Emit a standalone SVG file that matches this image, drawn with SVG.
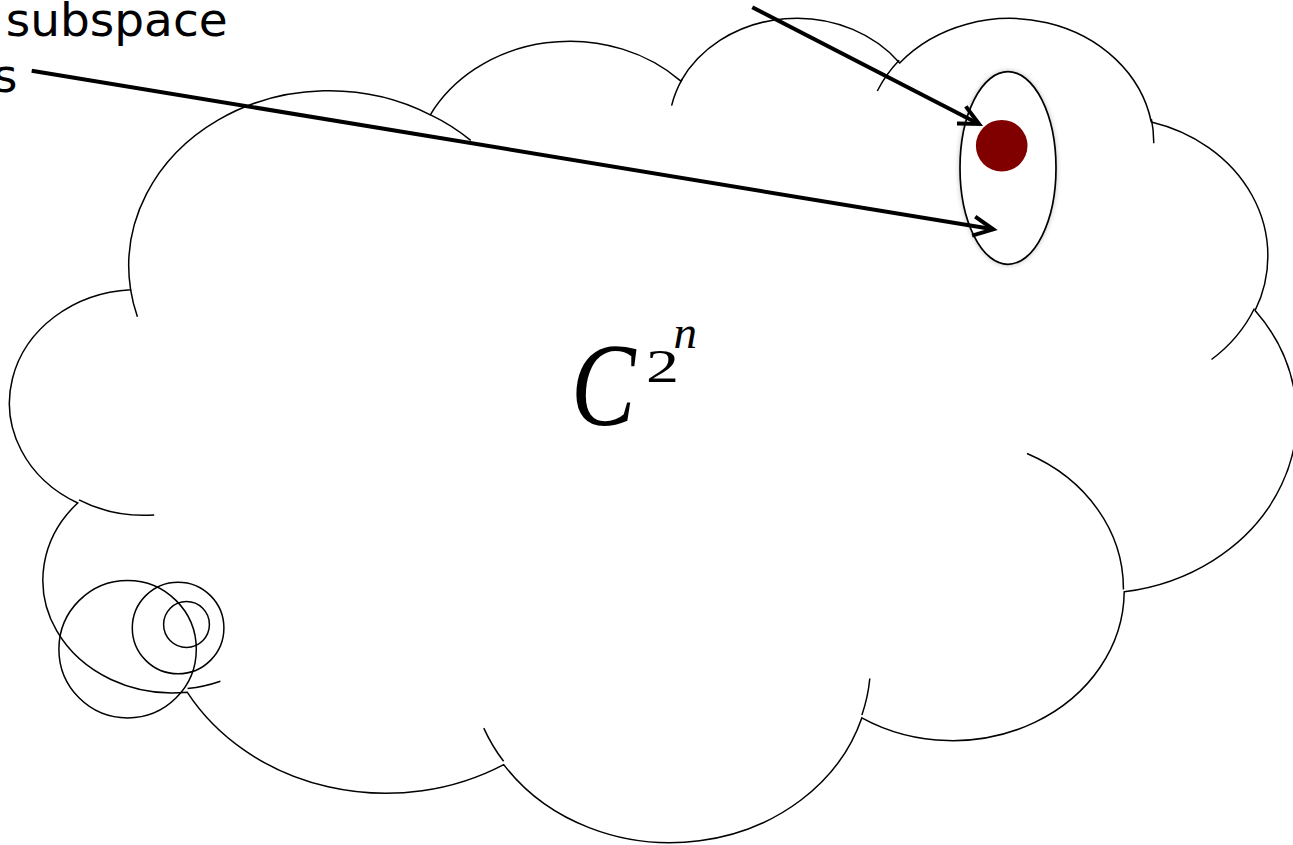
<svg xmlns="http://www.w3.org/2000/svg" width="1293" height="845" viewBox="0 0 1293 845">
<style>
.ol{fill:none;stroke:#000;stroke-width:1.5}
.lab{font-family:"DejaVu Sans","Verdana",sans-serif;font-size:47px;fill:#000}
.conn{fill:none;stroke:#000;stroke-width:4}
.m{font-family:"Liberation Serif","Times New Roman",serif;fill:#000}
</style>
<defs>
<marker id="ah" markerUnits="userSpaceOnUse" orient="auto" viewBox="-30 -15 40 30" refX="0" refY="0" markerWidth="40" markerHeight="30" overflow="visible">
<path d="M-19.8,-9.6 L0,0 L-19.8,9.6" fill="none" stroke="#000" stroke-width="4" stroke-linejoin="miter" stroke-miterlimit="10"/>
</marker>
<filter id="sh" x="-20%" y="-20%" width="140%" height="140%">
<feGaussianBlur in="SourceAlpha" stdDeviation="2.5" result="b"/>
<feFlood flood-color="#000" flood-opacity="0.25"/>
<feComposite in2="b" operator="in" result="s"/>
<feMerge><feMergeNode in="s"/><feMergeNode in="SourceGraphic"/></feMerge>
</filter>
</defs>
<rect width="1293" height="845" fill="#fff"/>
<g id="cloud">
<path class="ol" fill="#fff" d="M130.6,289.7 A200.25,175.31 0 0 1 430.3,114.8 A158.14,138.63 0 0 1 680.9,81.1 A129.44,113.41 0 0 1 899.7,62.9 A144.02,125.81 0 0 1 1151.3,122.0 A158.14,138.74 0 0 1 1255.1,310.5 A200.90,175.88 0 0 1 1124.2,591.8 A171.54,150.07 0 0 1 861.8,717.9 A200.22,175.79 0 0 1 503.7,764.6 A228.92,201.12 0 0 1 187.2,692.2 A129.29,112.89 0 0 1 77.7,503.0 A128.84,113.41 0 0 1 130.6,289.7 Z"/>
<path class="ol" d="M154.2,515.0 A128.84,113.41 0 0 1 79.0,499.8 M220.4,681.3 A129.29,112.89 0 0 1 187.6,688.6 M503.6,761.3 A200.22,175.79 0 0 1 483.8,728.1 M869.8,678.5 A200.22,175.79 0 0 1 861.9,714.9 M1027.0,453.5 A171.54,150.07 0 0 1 1123.4,589.6 M1254.4,308.5 A158.14,138.74 0 0 1 1211.5,359.5 M1151.4,119.1 A144.02,125.81 0 0 1 1153.7,143.2 M877.3,91.0 A144.02,125.81 0 0 1 899.2,60.2 M671.6,105.6 A129.44,113.41 0 0 1 682.2,79.1 M430.1,114.6 A200.25,175.31 0 0 1 470.7,140.4 M137.4,316.8 A200.25,175.31 0 0 1 130.6,289.7"/>
</g>
<g id="tail">
<circle class="ol" cx="127.6" cy="649.2" r="68.7"/>
<circle class="ol" cx="178.1" cy="628.0" r="45.8"/>
<circle class="ol" cx="186.5" cy="624.5" r="22.9"/>
</g>
<g id="subspace-ellipse">
<ellipse cx="1008" cy="168" rx="48" ry="96.3" fill="#fff" stroke="#000" stroke-width="1.7" filter="url(#sh)"/>
</g>
<g id="state-dot">
<circle cx="1001.7" cy="145.7" r="25.8" fill="#800000"/>
</g>
<g id="space-label">
<text class="m" x="571" y="424.5" font-size="118" font-style="italic" textLength="64.6" lengthAdjust="spacingAndGlyphs">C</text>
<text class="m" x="646" y="382" font-size="47" textLength="33" lengthAdjust="spacingAndGlyphs">2</text>
<text class="m" x="673.5" y="348" font-size="47" font-style="italic">n</text>
</g>
<g id="label-subspace">
<text class="lab" x="5.7" y="36">subspace</text>
</g>
<g id="label-s">
<text class="lab" x="17.5" y="92" text-anchor="end">s</text>
</g>
<g id="connectors">
<line class="conn" x1="752.3" y1="7.3" x2="979" y2="124" marker-end="url(#ah)"/>
<line class="conn" x1="31.7" y1="70.7" x2="993.2" y2="229.3" marker-end="url(#ah)"/>
</g>
</svg>
